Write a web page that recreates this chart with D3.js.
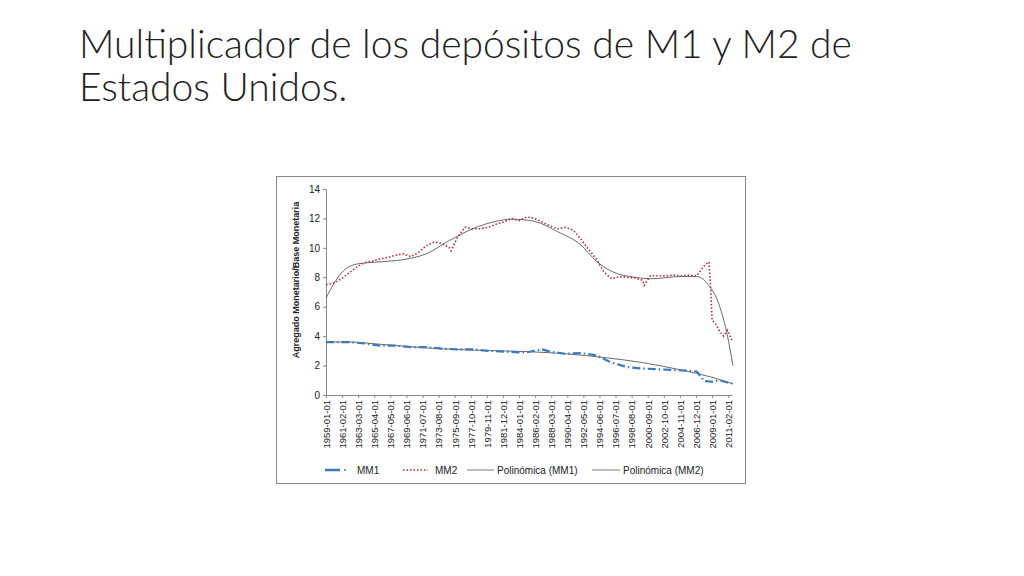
<!DOCTYPE html><html><head><meta charset="utf-8">
<script src="https://cdn.jsdelivr.net/npm/d3@7"></script>
<style>body{margin:0;background:#fff}</style></head><body>
<svg id="c" width="1024" height="576"></svg>
<script>
const mm2Years=[1959,1960,1961,1962,1963,1964,1965,1966,1967,1968,1969,1970,1971,1972,1973,1974,1975,1975.2,1976,1977,1978,1979,1980,1981,1982,1983,1984,1985,1986,1987,1988,1989,1990,1991,1992,1993,1994,1995,1996,1997,1998,1999,2000,2000.2,2001,2002,2003,2004,2005,2006,2007,2008,2008.6,2008.8,2009,2009.5,2010,2010.5,2011,2011.5,2011.6];
const mm2Vals=[7.5,7.6,7.9,8.3,8.7,9.0,9.1,9.25,9.35,9.5,9.6,9.4,9.7,10.15,10.4,10.3,10.0,9.8,10.7,11.4,11.3,11.3,11.4,11.6,11.75,12.0,11.85,12.1,12.0,11.75,11.5,11.3,11.4,11.2,10.6,9.9,9.25,8.35,7.9,8.05,8.0,7.95,7.8,7.45,8.1,8.1,8.1,8.15,8.1,8.15,8.1,8.8,9.05,7.4,5.1,4.8,4.3,4.0,4.4,3.8,3.6];
const mm1Years=[1959,1962,1964,1966,1968,1970,1972,1974,1976,1978,1980,1982,1984,1985,1987,1988,1990,1992,1994,1996,1998,2000,2002,2004,2006,2007,2008,2009,2010,2011,2011.6];
const mm1Vals=[3.6,3.6,3.5,3.35,3.35,3.25,3.25,3.15,3.1,3.1,3.0,2.95,2.9,2.9,3.1,2.95,2.8,2.85,2.7,2.2,1.9,1.8,1.75,1.7,1.65,1.6,0.95,0.9,1.0,0.85,0.8];
const t1Years=[1959,1962,1966,1972,1978,1985,1990,1995,2000,2005,2009,2011.7];
const t1Vals=[3.6,3.6,3.45,3.2,3.05,2.95,2.8,2.55,2.2,1.7,1.2,0.75];
const t2Years=[1959,1961,1963,1966,1969,1972,1975,1978,1981,1983,1986,1989,1992,1994,1996,1999,2001,2005,2007,2008.5,2010,2011,2011.7];
const t2Vals=[6.6,8.3,8.9,9.05,9.2,9.6,10.5,11.3,11.8,11.95,11.8,11.1,10.2,9.1,8.4,8.0,7.9,8.05,8.05,7.5,6.0,4.0,2.0];
const yTicks=[0,2,4,6,8,10,12,14];
const xTickLabels=d3.range(26).map(i=>{const d=new Date(Date.UTC(1959,i*25,1));return d.getUTCFullYear()+"-"+String(d.getUTCMonth()+1).padStart(2,"0")+"-01";});

const svg=d3.select("#c");
svg.append("text").attr("x",79).attr("y",58).attr("font-family","Lato").attr("font-weight",300).attr("font-size",39).attr("fill","#222").text("Multiplicador de los depósitos de M1 y M2 de");
svg.append("text").attr("x",79).attr("y",101).attr("font-family","Lato").attr("font-weight",300).attr("font-size",39).attr("fill","#222").text("Estados Unidos.");
svg.append("rect").attr("x",276.5).attr("y",176.5).attr("width",469).attr("height",307).attr("fill","#fff").attr("stroke","#888");

const x=d3.scaleLinear().domain([1959,1959+52.58]).range([326,732]);
const y=d3.scaleLinear().domain([0,14]).range([395,189]);
const F="Liberation Sans";
const ya=svg.append("g").attr("transform","translate(326,0)").call(d3.axisLeft(y).tickValues(yTicks).tickSize(3));
ya.selectAll("text").attr("font-family",F).attr("font-size",10).attr("fill","#222");
ya.select(".domain").attr("stroke","#888");ya.selectAll("line").attr("stroke","#888");
const xa=svg.append("g").attr("transform","translate(0,395)").call(d3.axisBottom(x).tickValues(d3.range(26).map(i=>1959+i*25/12)).tickFormat((d,i)=>xTickLabels[i]).tickSize(3).tickSizeOuter(0));
xa.selectAll("text").attr("font-family",F).attr("font-size",9.5).attr("fill","#222").attr("transform","rotate(-90)").attr("text-anchor","end").attr("x",-5).attr("y",0).attr("dy","0.35em");
xa.select(".domain").attr("stroke","#888");xa.selectAll("line").attr("stroke","#888");
svg.append("text").attr("transform","translate(299,280) rotate(-90)").attr("text-anchor","middle").attr("font-family",F).attr("font-weight","bold").attr("font-size",9).attr("fill","#222").text("Agregado Monetario/Base Monetaria");

const line=d3.line().x(d=>x(d[0])).y(d=>y(d[1])).curve(d3.curveMonotoneX);
const zip=(a,b)=>a.map((v,i)=>[v,b[i]]);
svg.append("path").attr("d",line(zip(t2Years,t2Vals))).attr("fill","none").attr("stroke","#444").attr("stroke-width",0.8);
svg.append("path").attr("d",line(zip(t1Years,t1Vals))).attr("fill","none").attr("stroke","#444").attr("stroke-width",0.8);
svg.append("path").attr("d",d3.line().x(d=>x(d[0])).y(d=>y(d[1]))(zip(mm2Years,mm2Vals))).attr("fill","none").attr("stroke","#c0282d").attr("stroke-width",1.6).attr("stroke-dasharray","1.5 2");
svg.append("path").attr("d",d3.line().x(d=>x(d[0])).y(d=>y(d[1]))(zip(mm1Years,mm1Vals))).attr("fill","none").attr("stroke","#3a78c0").attr("stroke-width",2.2).attr("stroke-dasharray","8 3 1.5 3");

const lg=svg.append("g").attr("font-family",F).attr("font-size",10).attr("fill","#222");
lg.append("line").attr("x1",325).attr("x2",340).attr("y1",470).attr("y2",470).attr("stroke","#3a78c0").attr("stroke-width",2.5);
lg.append("circle").attr("cx",345).attr("cy",470).attr("r",1).attr("fill","#3a78c0");
lg.append("text").attr("x",357).attr("y",473.5).text("MM1");
lg.append("line").attr("x1",403).attr("x2",428).attr("y1",470).attr("y2",470).attr("stroke","#c0282d").attr("stroke-width",1.5).attr("stroke-dasharray","1.5 2");
lg.append("text").attr("x",435).attr("y",473.5).text("MM2");
lg.append("line").attr("x1",467).attr("x2",494).attr("y1",470).attr("y2",470).attr("stroke","#555").attr("stroke-width",0.8);
lg.append("text").attr("x",497).attr("y",473.5).text("Polinómica (MM1)");
lg.append("line").attr("x1",592).attr("x2",620).attr("y1",470).attr("y2",470).attr("stroke","#555").attr("stroke-width",0.8);
lg.append("text").attr("x",623).attr("y",473.5).text("Polinómica (MM2)");
</script></body></html>
